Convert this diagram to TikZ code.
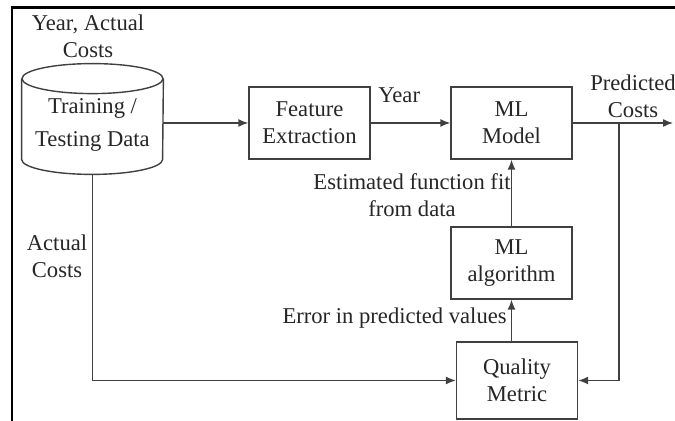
\documentclass[tikz,border=0pt]{standalone}
\usepackage{fontspec}
\setmainfont{Liberation Serif}
\usetikzlibrary{arrows.meta}
\begin{document}
\begin{tikzpicture}[x=0.5pt,y=-0.5pt,
    font=\fontsize{11.3pt}{13.5pt}\selectfont,
    box/.style={draw=black!75,line width=0.7pt,minimum width=60.5pt,minimum height=36pt,align=center,text=black!85},
    cyl/.style={draw=black!75,line width=0.7pt},
    arr/.style={draw=black!75,line width=0.7pt,-{Latex[length=5pt,width=4pt]}},
    lbl/.style={align=center,text=black!85,inner sep=1pt}]
        \useasboundingbox (0,0) rectangle (675,421);
        \draw[line width=1.2pt] (675,7.5) -- (12,7.5) -- (12,421);
        \node[minimum width=70.5pt,minimum height=55pt,inner sep=0pt,align=center,text=black!85] (data) at (92.5,119) {\rule{0pt}{13pt}Training /\\[3pt]Testing Data};
        \draw[cyl] ([yshift=-7.5pt]data.north west) -- ([yshift=7.5pt]data.south west)
          arc[start angle=180,end angle=360,x radius=35.25pt,y radius=7.5pt] -- ([yshift=-7.5pt]data.north east);
        \draw[cyl] ([yshift=-7.5pt]data.north) ellipse[x radius=35.25pt,y radius=7.5pt];
        \node[box] (feat) at (309.5,123) {Feature\\Extraction};
        \node[box] (model) at (511.5,123) {ML\\Model};
        \node[box] (algo) at (511.5,263) {ML\\algorithm};
        \node[box,minimum height=38.5pt] (metric) at (517,380.5) {Quality\\Metric};
        \node[lbl] (inlbl) at (88,36) {Year, Actual\\Costs};
        \node[lbl,anchor=west] (yearlbl) at (376,95) {Year};
        \node[lbl] (predlbl) at (633,96) {Predicted\\Costs};
        \node[lbl] (fitlbl) at (412,195) {Estimated function fit\\from data};
        \node[lbl,anchor=east] (errlbl) at (509,318) {Error in predicted values};
        \node[lbl] (costlbl) at (57,256) {Actual\\Costs};
        \coordinate (out) at (673,123);
        \coordinate (split) at (619,123);
        \draw[arr] (data.east |- feat.west) -- (feat.west);
        \draw[arr] (feat) -- (model);
        \draw[arr] (model.east) -- (out);
        \draw[arr] (split) |- (metric.east);
        \draw[arr] (algo) -- (model);
        \draw[arr] (algo.south |- metric.north) -- (algo.south);
        \draw[arr] (data.south) |- (metric.west);
      \end{tikzpicture}
\end{document}
